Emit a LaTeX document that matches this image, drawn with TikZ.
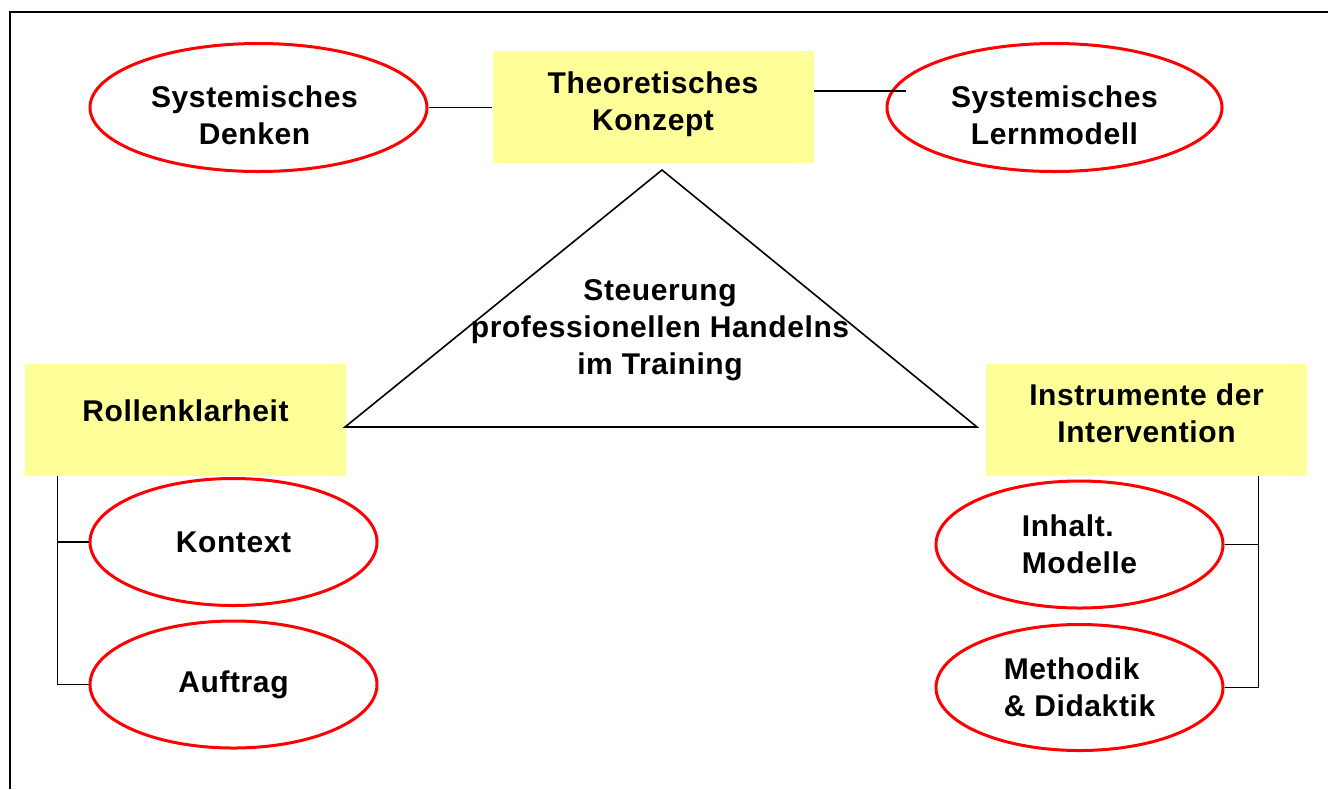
\documentclass[tikz,border=0pt]{standalone}
\usepackage{fontspec}
\setmainfont{Liberation Sans}[LetterSpace=2]
\usetikzlibrary{shapes.geometric}
\definecolor{boxgelb}{HTML}{FFFF99}
\definecolor{ovalrot}{HTML}{FF0000}

\begin{document}
\begin{tikzpicture}[x=0.5pt, y=-0.5pt,
  oval/.style={ellipse, draw=ovalrot, line width=1.5pt, inner sep=0pt, align=center,
    font=\bfseries\fontsize{15}{18.5}\selectfont},
  gelb/.style={rectangle, fill=boxgelb, inner sep=0pt, minimum width=160.5pt, minimum height=56pt},
  txt/.style={inner sep=0pt, align=center, font=\bfseries\fontsize{15}{18.5}\selectfont},
  verb/.style={line width=0.8pt}]
\useasboundingbox (0,0) rectangle (1328,789);
\draw[line width=1pt] (1328,12) -- (10,12) -- (10,789);

\node[gelb] (konzept) at (653,107){};
\node[txt] (konzepttxt) at ([yshift=1.5pt]konzept.center){Theoretisches\\Konzept};
\node[gelb] (rolle) at (185.5,420){};
\node[txt] (rolletxt) at ([yshift=4.5pt]rolle.center){Rollenklarheit};
\node[gelb] (instr) at (1146.5,420){};
\node[txt] (instrtxt) at ([yshift=3.25pt]instr.center){Instrumente der\\Intervention};

\node[oval, minimum width=168.5pt, minimum height=64pt] (denken) at (258.5,107.5){};
\node[txt] (denkentxt) at ([yshift=-4pt,xshift=-2pt]denken.center){Systemisches\\Denken};
\node[oval, minimum width=167.5pt, minimum height=64pt] (lernmodell) at (1054.5,107.5){};
\node[txt] (lernmodelltxt) at ([yshift=-4pt]lernmodell.center){Systemisches\\Lernmodell};
\node[oval, minimum width=143.5pt, minimum height=63.5pt] (kontext) at (233.5,542){Kontext};
\node[oval, minimum width=143.5pt, minimum height=63.5pt] (auftrag) at (233.5,684.5){Auftrag};
\node[oval, minimum width=143.5pt, minimum height=63.5pt, align=left] (inhalt) at (1079.5,544.5){Inhalt.\\Modelle};
\node[oval, minimum width=143.5pt, minimum height=63pt, align=left] (methodik) at (1079.5,687.5){Methodik\\\& Didaktik};

\coordinate (spitze) at (662,170);
\coordinate (links) at (345,427);
\coordinate (rechts) at (977,427);
\draw[verb] (spitze) -- (rechts) -- (links) -- cycle;
\node[txt] (steuerung) at (660,330){Steuerung\\professionellen Handelns\\im Training};

\coordinate (lmende) at (906,91);
\coordinate (last) at ([xshift=16.5pt]rolle.south west);
\coordinate (rast) at ([xshift=-24.5pt]instr.south east);

\draw[verb](denken.east) -- (denken.east -| konzept.west);
\draw[verb](konzept.east |- lmende) -- (lmende);
\draw[verb](last) |- (auftrag.west);
\draw[verb](kontext.west -| last) -- (kontext.west);
\draw[verb](rast) |- (methodik.east);
\draw[verb](inhalt.east) -- (inhalt.east -| rast);
\end{tikzpicture}
\end{document}
